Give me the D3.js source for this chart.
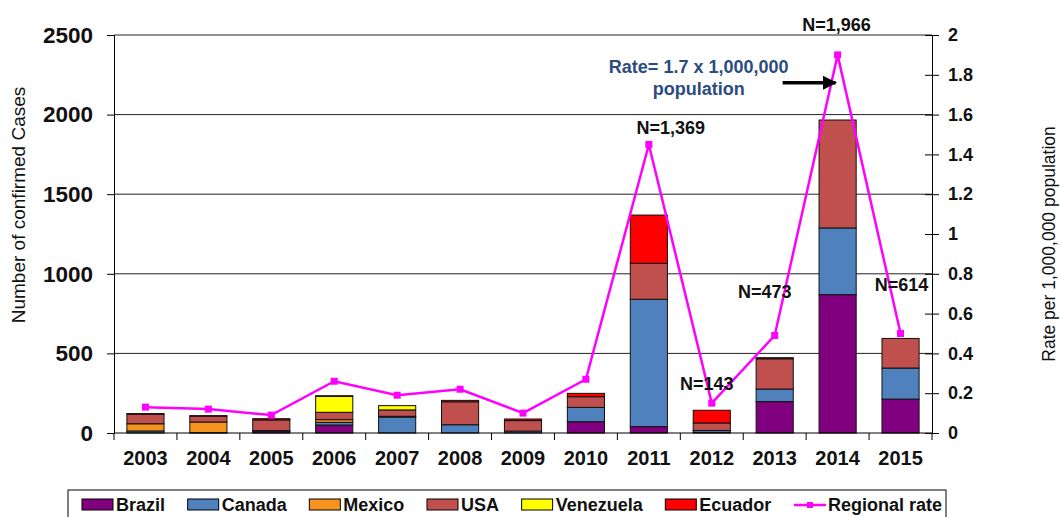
<!DOCTYPE html>
<html>
<head>
<meta charset="utf-8">
<script src="https://cdn.jsdelivr.net/npm/d3@7"></script>
<style>
  body { margin: 0; background: #fff; }
  svg text { font-family: "Liberation Sans", Arial, sans-serif; }
</style>
</head>
<body>
<div id="chart"></div>
<script>
// cases by country, stacked bottom -> top
const years     = ['2003','2004','2005','2006','2007','2008','2009','2010','2011','2012','2013','2014','2015'];
const brazil    = [0, 0, 12, 50, 0, 0, 0, 71, 40, 4, 197, 869, 213];
const canada    = [13, 2, 3, 17, 100, 52, 12, 90, 800, 12, 79, 419, 195];
const mexico    = [45, 67, 0, 17, 5, 0, 0, 0, 0, 0, 0, 0, 0];
const usa       = [60, 37, 67, 46, 40, 144, 66, 67, 226, 47, 190, 678, 186];
const venezuela = [0, 0, 0, 100, 27, 0, 0, 0, 0, 0, 0, 0, 0];
const ecuador   = [4, 3, 8, 4, 0, 9, 10, 21, 303, 80, 7, 0, 0];
const rate      = [0.13, 0.12, 0.09, 0.26, 0.19, 0.22, 0.10, 0.27, 1.45, 0.15, 0.49, 1.90, 0.50];

const countries = ['Brazil', 'Canada', 'Mexico', 'USA', 'Venezuela', 'Ecuador'];
const colors    = ['#800080', '#4F81BD', '#F7941D', '#C0504D', '#FFFF00', '#FF0000'];
const leftTicks  = [0, 500, 1000, 1500, 2000, 2500];
const rightTicks = [0, 0.2, 0.4, 0.6, 0.8, 1, 1.2, 1.4, 1.6, 1.8, 2];
const nLabels = [
  { year: '2011', text: 'N=1,369' },
  { year: '2012', text: 'N=143' },
  { year: '2013', text: 'N=473' },
  { year: '2014', text: 'N=1,966' },
  { year: '2015', text: 'N=614' }
];
const rateNote = ['Rate= 1.7 x 1,000,000', 'population'];

function drawChart() {
  const width = 1060, height = 517;
  const left = 114, right = 932, top = 35, bottom = 433;

  const svg = d3.select('#chart').append('svg')
    .attr('width', width).attr('height', height);

  const table = years.map((y, i) => ({
    year: y, Brazil: brazil[i], Canada: canada[i], Mexico: mexico[i],
    USA: usa[i], Venezuela: venezuela[i], Ecuador: ecuador[i]
  }));
  const stacked = d3.stack().keys(countries)(table);

  const x = d3.scaleBand().domain(years).range([left, right]).paddingInner(0.41).paddingOuter(0.205);
  const y = d3.scaleLinear().domain([0, 2500]).range([bottom, top]);
  const yr = d3.scaleLinear().domain([0, 2]).range([bottom, top]);
  const cx = d => x(d) + x.bandwidth() / 2;

  // gridlines
  svg.append('g').selectAll('line').data(leftTicks.slice(1)).enter().append('line')
    .attr('x1', left).attr('x2', right)
    .attr('y1', d => y(d)).attr('y2', d => y(d))
    .attr('stroke', '#222').attr('stroke-width', 1);

  // bars
  svg.append('g').selectAll('g').data(stacked).enter().append('g')
    .attr('fill', (d, i) => colors[i])
    .selectAll('rect').data(d => d.filter(s => s[1] - s[0] > 0)).enter().append('rect')
    .attr('x', d => x(d.data.year))
    .attr('width', x.bandwidth())
    .attr('y', d => y(d[1]))
    .attr('height', d => y(d[0]) - y(d[1]))
    .attr('stroke', '#111').attr('stroke-width', 1);

  // left axis
  const yAxis = d3.axisLeft(y).tickValues(leftTicks).tickSize(7).tickPadding(14)
    .tickFormat(d3.format('d'));
  const gl = svg.append('g').attr('transform', `translate(${left},0)`).call(yAxis);
  gl.select('.domain').attr('stroke', '#000');
  gl.selectAll('.tick line').attr('stroke', '#000');
  gl.selectAll('text').attr('font-size', '22.5px').attr('font-weight', 'bold').attr('fill', '#111')
    .attr('font-family', '"Liberation Sans", Arial, sans-serif');

  // right axis
  const yrAxis = d3.axisRight(yr).tickValues(rightTicks).tickSize(7).tickPadding(9)
    .tickFormat(d => d3.format('~g')(d));
  const gr = svg.append('g').attr('transform', `translate(${right},0)`).call(yrAxis);
  gr.select('.domain').attr('stroke', '#000');
  gr.selectAll('.tick line').attr('stroke', '#000').attr('x1', -7);
  gr.selectAll('text').attr('font-size', '18px').attr('font-weight', 'bold').attr('fill', '#111')
    .attr('font-family', '"Liberation Sans", Arial, sans-serif');

  // bottom axis
  svg.append('line').attr('x1', left).attr('x2', right).attr('y1', bottom).attr('y2', bottom)
    .attr('stroke', '#000');
  const bounds = years.map(d => x(d) - x.step() * x.paddingInner() / 2).concat([right]);
  svg.append('g').selectAll('line').data(bounds).enter().append('line')
    .attr('x1', d => d).attr('x2', d => d).attr('y1', bottom).attr('y2', bottom + 7)
    .attr('stroke', '#000');
  svg.append('g').selectAll('text').data(years).enter().append('text')
    .attr('x', d => cx(d)).attr('y', 465)
    .attr('text-anchor', 'middle').attr('font-size', '20px').attr('font-weight', 'bold')
    .attr('fill', '#111').text(d => d);

  // axis titles
  svg.append('text').attr('transform', `translate(25,${(top + bottom) / 2 - 29}) rotate(-90)`)
    .attr('text-anchor', 'middle').attr('font-size', '19px').attr('fill', '#111')
    .text('Number of confirmed Cases');
  svg.append('text').attr('transform', `translate(1055,244) rotate(-90)`)
    .attr('text-anchor', 'middle').attr('font-size', '17.5px').attr('fill', '#111')
    .text('Rate per 1,000,000 population');

  // regional rate line
  const line = d3.line().x((d, i) => cx(years[i])).y(d => yr(d));
  svg.append('path').datum(rate).attr('d', line)
    .attr('fill', 'none').attr('stroke', '#FF00FF').attr('stroke-width', 2.5);
  svg.append('g').selectAll('rect').data(rate).enter().append('rect')
    .attr('x', (d, i) => cx(years[i]) - 3.5).attr('y', d => yr(d) - 3.5)
    .attr('width', 7).attr('height', 7).attr('fill', '#FF00FF');

  // N= labels
  const nOffset = { '2011': [22, 134], '2012': [-5, 390], '2013': [-10, 298], '2014': [-1, 31], '2015': [1, 291] };
  svg.append('g').selectAll('text').data(nLabels).enter().append('text')
    .attr('x', d => cx(d.year) + nOffset[d.year][0]).attr('y', d => nOffset[d.year][1])
    .attr('text-anchor', 'middle').attr('font-size', '18px').attr('font-weight', 'bold')
    .attr('fill', '#111').text(d => d.text);

  // rate note + arrow
  svg.append('defs').append('marker').attr('id', 'arrow')
    .attr('viewBox', '0 0 10 10').attr('refX', 9).attr('refY', 5)
    .attr('markerWidth', 4).attr('markerHeight', 4).attr('orient', 'auto')
    .append('path').attr('d', 'M0,0 L10,5 L0,10 z').attr('fill', '#000');
  const ax = cx('2014');
  svg.append('line').attr('x1', ax - 55).attr('x2', ax - 2)
    .attr('y1', yr(1.76)).attr('y2', yr(1.76))
    .attr('stroke', '#000').attr('stroke-width', 3.5).attr('marker-end', 'url(#arrow)');
  svg.append('g').selectAll('text').data(rateNote).enter().append('text')
    .attr('x', cx('2013') - 76).attr('y', (d, i) => 73 + i * 22)
    .attr('text-anchor', 'middle').attr('font-size', '18px').attr('font-weight', 'bold')
    .attr('fill', '#2B4C7E').text(d => d);

  // legend
  const lg = svg.append('g');
  lg.append('rect').attr('x', 68).attr('y', 490).attr('width', 878).attr('height', 40)
    .attr('fill', '#fff').attr('stroke', '#000').attr('stroke-width', 1);
  const items = countries.map((c, i) => ({ name: c, color: colors[i], kind: 'bar' }))
    .concat([{ name: 'Regional rate', color: '#FF00FF', kind: 'line' }]);
  const texts = items.map(it => lg.append('text').attr('y', 511)
    .attr('font-size', '18px').attr('font-weight', 'bold').attr('fill', '#111').text(it.name));
  const widths = texts.map(t => t.node().getComputedTextLength());
  const symW = 34, startX = 82, endX = 942;
  const gap = (endX - startX - d3.sum(widths) - symW * items.length) / (items.length - 1);
  let lx = startX;
  items.forEach((it, i) => {
    if (it.kind === 'bar') {
      lg.append('rect').attr('x', lx).attr('y', 499).attr('width', 31).attr('height', 11)
        .attr('fill', it.color).attr('stroke', '#000').attr('stroke-width', 1);
    } else {
      lg.append('line').attr('x1', lx).attr('x2', lx + 32).attr('y1', 505).attr('y2', 505)
        .attr('stroke', it.color).attr('stroke-width', 2.5);
      lg.append('rect').attr('x', lx + 13).attr('y', 502).attr('width', 6).attr('height', 6)
        .attr('fill', it.color);
    }
    texts[i].attr('x', lx + symW);
    lx += symW + widths[i] + gap;
  });
}

window.addEventListener('DOMContentLoaded', drawChart);
</script>
</body>
</html>
